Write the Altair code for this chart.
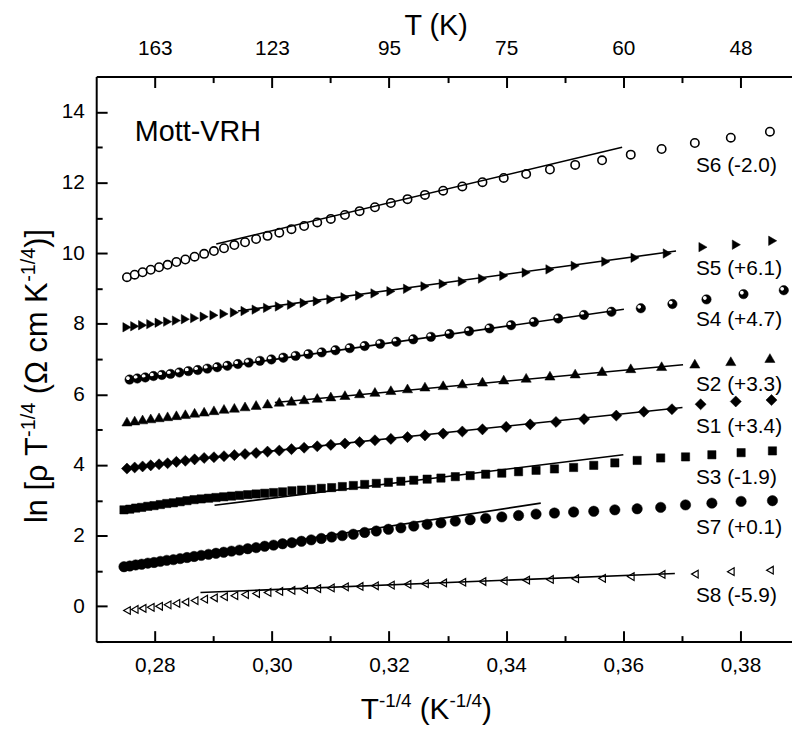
import altair as alt
import pandas as pd

# ---------------- data ----------------
X_A = [0.27525, 0.27657, 0.27792, 0.27931, 0.28073, 0.28219, 0.28369, 0.28522, 0.28680, 0.28843,
       0.29010, 0.29182, 0.29359, 0.29541, 0.29730, 0.29925, 0.30126, 0.30334, 0.30550, 0.30774,
       0.31006, 0.31247, 0.31497, 0.31759, 0.32031, 0.32315, 0.32613, 0.32924, 0.33251, 0.33595,
       0.33958, 0.34341, 0.34747, 0.35178, 0.35637, 0.36127, 0.36654, 0.37221, 0.37835, 0.38503]
X_S5 = [0.27525, 0.27657, 0.27792, 0.27931, 0.28073, 0.28219, 0.28369, 0.28522, 0.28680, 0.28843,
        0.29010, 0.29182, 0.29359, 0.29541, 0.29730, 0.29925, 0.30126, 0.30334, 0.30550, 0.30774,
        0.31006, 0.31247, 0.31497, 0.31759, 0.32031, 0.32315, 0.32613, 0.32924, 0.33251, 0.33595,
        0.33958, 0.34341, 0.34747, 0.35178, 0.35700, 0.36200, 0.36750, 0.37360, 0.37930, 0.38550]
X_S1 = [0.27525, 0.27657, 0.27792, 0.27931, 0.28073, 0.28219, 0.28369, 0.28522, 0.28680, 0.28843,
        0.29010, 0.29182, 0.29359, 0.29541, 0.29730, 0.29925, 0.30126, 0.30334, 0.30550, 0.30774,
        0.31006, 0.31247, 0.31497, 0.31759, 0.32031, 0.32315, 0.32613, 0.32924, 0.33251, 0.33595,
        0.34000, 0.34410, 0.34850, 0.35330, 0.35880, 0.36350, 0.36830, 0.37320, 0.37920, 0.38530]
X_B = [0.27570, 0.27702, 0.27838, 0.27978, 0.28121, 0.28269, 0.28420, 0.28574, 0.28734, 0.28898,
       0.29066, 0.29240, 0.29419, 0.29603, 0.29795, 0.29991, 0.30195, 0.30405, 0.30623, 0.30850,
       0.31085, 0.31329, 0.31584, 0.31848, 0.32124, 0.32413, 0.32715, 0.33031, 0.33365, 0.33715,
       0.34083, 0.34474, 0.34888, 0.35328, 0.35797, 0.36299, 0.36838, 0.37420, 0.38052, 0.38740]
X_C = [0.27474, 0.27573, 0.27674, 0.27776, 0.27881, 0.27987, 0.28095, 0.28205, 0.28318, 0.28433,
       0.28550, 0.28671, 0.28793, 0.28918, 0.29045, 0.29177, 0.29310, 0.29446, 0.29587, 0.29730,
       0.29877, 0.30028, 0.30182, 0.30341, 0.30504, 0.30671, 0.30843, 0.31020, 0.31202, 0.31390,
       0.31584, 0.31782, 0.31989, 0.32202, 0.32422, 0.32650, 0.32886, 0.33131, 0.33385, 0.33650,
       0.33925, 0.34211, 0.34510, 0.34824, 0.35151, 0.35495, 0.35855, 0.36236, 0.36638, 0.37062,
       0.37512, 0.38011, 0.38546]

S6_Y = [9.32, 9.39, 9.46, 9.53, 9.60, 9.67, 9.75, 9.82, 9.90, 9.98,
        10.06, 10.14, 10.23, 10.31, 10.40, 10.49, 10.58, 10.68, 10.77, 10.87,
        10.97, 11.08, 11.19, 11.30, 11.42, 11.53, 11.65, 11.77, 11.89, 12.01,
        12.13, 12.24, 12.37, 12.50, 12.63, 12.79, 12.95, 13.12, 13.27, 13.44]
S5_Y = [7.90, 7.93, 7.96, 7.99, 8.03, 8.06, 8.09, 8.13, 8.16, 8.20,
        8.24, 8.28, 8.32, 8.36, 8.40, 8.45, 8.49, 8.54, 8.59, 8.64,
        8.69, 8.75, 8.80, 8.86, 8.92, 8.99, 9.06, 9.13, 9.20, 9.28,
        9.36, 9.45, 9.54, 9.64, 9.76, 9.87, 9.99, 10.17, 10.24, 10.35]
S4_Y = [6.42, 6.45, 6.48, 6.52, 6.55, 6.58, 6.62, 6.66, 6.69, 6.73,
        6.77, 6.81, 6.86, 6.90, 6.95, 6.99, 7.04, 7.09, 7.14, 7.19,
        7.25, 7.31, 7.37, 7.43, 7.49, 7.56, 7.63, 7.71, 7.79, 7.87,
        7.96, 8.05, 8.15, 8.25, 8.34, 8.44, 8.56, 8.69, 8.84, 8.95]
S2_Y = [5.23, 5.26, 5.29, 5.32, 5.35, 5.38, 5.41, 5.44, 5.48, 5.51,
        5.55, 5.59, 5.62, 5.66, 5.70, 5.74, 5.79, 5.82, 5.86, 5.90,
        5.94, 5.98, 6.03, 6.07, 6.12, 6.17, 6.22, 6.26, 6.31, 6.36,
        6.42, 6.47, 6.53, 6.59, 6.66, 6.74, 6.80, 6.87, 6.94, 7.03]
S1_Y = [3.90, 3.93, 3.96, 3.99, 4.02, 4.05, 4.09, 4.12, 4.16, 4.20,
        4.22, 4.25, 4.28, 4.31, 4.34, 4.38, 4.41, 4.45, 4.49, 4.53,
        4.57, 4.61, 4.65, 4.70, 4.74, 4.79, 4.84, 4.89, 4.95, 5.01,
        5.08, 5.15, 5.22, 5.30, 5.40, 5.51, 5.58, 5.72, 5.80, 5.84]
S3_Y = [2.73, 2.75, 2.78, 2.80, 2.83, 2.85, 2.88, 2.91, 2.93, 2.96,
        2.99, 3.02, 3.04, 3.06, 3.08, 3.10, 3.12, 3.14, 3.16, 3.18,
        3.20, 3.22, 3.24, 3.27, 3.29, 3.31, 3.34, 3.36, 3.39, 3.42,
        3.45, 3.48, 3.51, 3.54, 3.57, 3.60, 3.63, 3.67, 3.70, 3.74,
        3.77, 3.81, 3.85, 3.89, 3.93, 3.99, 4.06, 4.13, 4.20, 4.23,
        4.29, 4.35, 4.40]
S7_Y = [1.12, 1.14, 1.17, 1.19, 1.22, 1.24, 1.27, 1.30, 1.32, 1.35,
        1.38, 1.41, 1.44, 1.47, 1.50, 1.53, 1.56, 1.59, 1.63, 1.66,
        1.70, 1.73, 1.77, 1.80, 1.84, 1.88, 1.92, 1.96, 2.00, 2.04,
        2.09, 2.13, 2.18, 2.22, 2.27, 2.32, 2.36, 2.41, 2.45, 2.49,
        2.53, 2.57, 2.61, 2.64, 2.67, 2.69, 2.73, 2.76, 2.80, 2.87,
        2.92, 2.97, 2.99]
S8_Y = [-0.12, -0.09, -0.06, -0.03, 0.00, 0.04, 0.08, 0.12, 0.16, 0.20,
        0.24, 0.27, 0.30, 0.33, 0.36, 0.39, 0.42, 0.45, 0.48, 0.50,
        0.52, 0.55, 0.56, 0.58, 0.60, 0.62, 0.64, 0.66, 0.68, 0.70,
        0.72, 0.74, 0.76, 0.78, 0.79, 0.84, 0.90, 0.91, 0.98, 1.02]

SERIES = ["S6", "S5", "S4", "S2", "S1", "S3", "S7", "S8"]
SERIES_X = {"S6": X_A, "S5": X_S5, "S4": X_B, "S2": X_A, "S1": X_S1, "S3": X_C, "S7": X_C, "S8": X_A}
SERIES_Y = {"S6": S6_Y, "S5": S5_Y, "S4": S4_Y, "S2": S2_Y, "S1": S1_Y, "S3": S3_Y, "S7": S7_Y, "S8": S8_Y}

LABELS = ["S6 (-2.0)", "S5 (+6.1)", "S4 (+4.7)", "S2 (+3.3)", "S1 (+3.4)", "S3 (-1.9)", "S7 (+0.1)", "S8 (-5.9)"]
LABEL_X = [0.3724] * 8
LABEL_Y = [12.46, 9.55, 8.11, 6.27, 5.07, 3.62, 2.22, 0.30]

# linear fits (start / end)
FIT_X0 = [0.2905, 0.2942, 0.2757, 0.3005, 0.2877, 0.2902, 0.2759, 0.2878]
FIT_Y0 = [10.26, 8.36, 6.40, 5.77, 4.18, 2.86, 1.15, 0.39]
FIT_X1 = [0.3598, 0.3690, 0.3601, 0.3702, 0.3701, 0.3600, 0.3459, 0.3688]
FIT_Y1 = [13.00, 10.06, 8.41, 6.84, 5.63, 4.29, 2.92, 0.93]

X_MAJOR = [0.28, 0.30, 0.32, 0.34, 0.36, 0.38]
X_MINOR = [0.29, 0.31, 0.33, 0.35, 0.37]
TOP_LABELS = ["163", "123", "95", "75", "60", "48"]
Y_MAJOR = [0, 2, 4, 6, 8, 10, 12, 14]
Y_MINOR = [-1, 1, 3, 5, 7, 9, 11, 13]

# ---------------- layout ----------------
W, H = 702, 570
FONT = "Liberation Sans"
XS = alt.Scale(domain=[0.27, 0.3888], nice=False, zero=False)
YS = alt.Scale(domain=[-1, 15], nice=False, zero=False)

MAJ = {"expr": "-11"}
MIN = {"expr": "-6"}
common = dict(grid=False, title=None, domainColor="black", tickColor="black",
              labelColor="black", labelFont=FONT, labelFontSize=21,
              domainWidth=2, tickWidth=2)

ax_bottom = alt.Axis(orient="bottom", values=X_MAJOR, tickSize=MAJ, labelPadding=24,
                     labelExpr="replace(format(datum.value, '.2f'), '.', ',')", **common)
ax_bottom_min = alt.Axis(orient="bottom", values=X_MINOR, tickSize=MIN, labels=False,
                         domain=False, **common)
top_expr = "[" + ",".join("'%s'" % t for t in TOP_LABELS) + "][indexof([" + \
    ",".join(str(int(round(v * 100))) for v in X_MAJOR) + "], round(datum.value*100))]"
ax_top = alt.Axis(orient="top", values=X_MAJOR, tickSize=MAJ, labelPadding=29,
                  labelExpr=top_expr, **common)
ax_top_min = alt.Axis(orient="top", values=X_MINOR, tickSize=MIN, labels=False,
                      domain=False, **common)
ax_left = alt.Axis(orient="left", values=Y_MAJOR, tickSize=MAJ, labelPadding=23,
                   format="d", **common)
ax_left_min = alt.Axis(orient="left", values=Y_MINOR, tickSize=MIN, labels=False,
                       domain=False, **common)

rows = []
for s in SERIES:
    for xv, yv in zip(SERIES_X[s], SERIES_Y[s]):
        rows.append({"s": s, "x": xv, "y": yv})
pts = pd.DataFrame(rows)

STYLE = {
    "S6": dict(shape="circle", fill="white", stroke="black", strokeWidth=1.6, size=72),
    "S5": dict(shape="triangle-right", fill="black", stroke="black", strokeWidth=0.5, size=90),
    "S4": dict(shape="circle", fill="black", stroke="black", strokeWidth=0.5, size=90),
    "S2": dict(shape="triangle-up", fill="black", stroke="black", strokeWidth=0.5, size=105),
    "S1": dict(shape="diamond", fill="black", stroke="black", strokeWidth=0.5, size=125),
    "S3": dict(shape="square", fill="black", stroke="black", strokeWidth=0.5, size=70),
    "S7": dict(shape="circle", fill="black", stroke="black", strokeWidth=0.5, size=110),
    "S8": dict(shape="triangle-left", fill="white", stroke="black", strokeWidth=1.2, size=60),
}

layers = []
for i, s in enumerate(SERIES):
    st = STYLE[s]
    layers.append(
        alt.Chart(pts).transform_filter(alt.datum.s == s).mark_point(
            filled=True, opacity=1, fillOpacity=1, **st
        ).encode(
            x=alt.X("x:Q", scale=XS, axis=ax_bottom if i == 0 else None),
            y=alt.Y("y:Q", scale=YS, axis=ax_left if i == 0 else None),
        )
    )

# white highlight on the S4 "spheres"
HIGHLIGHT = "M -0.75 -0.3 A 0.4 0.4 0 1 1 0.05 -0.3 A 0.4 0.4 0 1 1 -0.75 -0.3 Z"
layers.append(
    alt.Chart(pts).transform_filter(alt.datum.s == "S4").mark_point(
        shape=HIGHLIGHT, filled=True, fill="white", strokeWidth=0, size=90, opacity=1
    ).encode(x=alt.X("x:Q", scale=XS, axis=None), y=alt.Y("y:Q", scale=YS, axis=None))
)

fits = pd.DataFrame({"x0": FIT_X0, "y0": FIT_Y0, "x1": FIT_X1, "y1": FIT_Y1})
layers.append(
    alt.Chart(fits).mark_rule(color="black", strokeWidth=1.6).encode(
        x=alt.X("x0:Q", scale=XS, axis=ax_top), x2="x1:Q",
        y=alt.Y("y0:Q", scale=YS, axis=ax_left_min), y2="y1:Q",
    )
)

labs = pd.DataFrame({"x": LABEL_X, "y": LABEL_Y, "t": LABELS})
layers.append(
    alt.Chart(labs).mark_text(align="left", baseline="middle", font=FONT, fontSize=21,
                              color="black").encode(
        x=alt.X("x:Q", scale=XS, axis=ax_bottom_min),
        y=alt.Y("y:Q", scale=YS, axis=None), text="t:N",
    )
)

mott = pd.DataFrame({"x": [0.2766], "y": [13.44], "t": ["Mott-VRH"]})
layers.append(
    alt.Chart(mott).mark_text(align="left", baseline="middle", font=FONT, fontSize=29,
                              color="black").encode(
        x=alt.X("x:Q", scale=XS, axis=ax_top_min),
        y=alt.Y("y:Q", scale=YS, axis=None), text="t:N",
    )
)

# ---------------- axis titles (with superscripts) ----------------
CW = {'l': .222, 'n': .556, ' ': .278, '[': .278, 'ρ': .578, 'T': .611, '-': .333, '1': .556,
      '/': .278, '4': .556, '(': .333, 'Ω': .768, 'c': .5, 'm': .833, 'K': .667, ')': .333, ']': .278}


def tw(txt, fs):
    return sum(CW.get(c, .55) for c in txt) * fs


def piece(txt, px, py, fs, angle=0, align="left", baseline="alphabetic"):
    kw = dict(align=align, baseline=baseline, font=FONT, fontSize=fs, color="black")
    if angle:
        kw["angle"] = angle
    return alt.Chart(pd.DataFrame({"t": [txt]})).mark_text(**kw).encode(
        x=alt.value(px), y=alt.value(py), text="t:N")


# pieces: (text, font size, superscript?, gap after in em of main font)
BIG, SUP = 30, 19
xt = [("T", BIG, 0, 0.0), ("-1/4", SUP, 1, 0.28), ("(K", BIG, 0, 0.0), ("-1/4", SUP, 1, 0.0),
      (")", BIG, 0, 0.0)]
total = sum(tw(t, f) + g * BIG for t, f, _, g in xt)
cx = 430 - 97 - total / 2
for t, f, sup, g in xt:
    layers.append(piece(t, cx, 648 - (12 if sup else 0), f))
    cx += tw(t, f) + g * BIG

# top title
layers.append(piece("T (K)", 440 - 97, -42, 29, align="center"))

# left title (rotated): ln [ρ T^-1/4 (Ω cm K^-1/4)]
YB, YSUP = 31, 20
yt = [("ln [ρ T", YB, 0, 0.0), ("-1/4", YSUP, 1, 0.28), ("(Ω cm K", YB, 0, 0.0),
      ("-1/4", YSUP, 1, 0.0), (")]", YB, 0, 0.0)]
total = sum(tw(t, f) + g * YB for t, f, _, g in yt)
cy = 376 - 74 + total / 2
for t, f, sup, g in yt:
    layers.append(piece(t, -50 - (12 if sup else 0), cy, f, angle=270))
    cy -= tw(t, f) + g * YB

chart = alt.layer(*layers).resolve_axis(x="independent", y="independent").properties(
    width=W, height=H,
    autosize=alt.AutoSizeParams(type="none"),
    padding={"left": 89, "top": 66, "right": 0, "bottom": 86},
).configure_view(stroke=None)

chart.save("out.html", embed_options={"renderer": "svg", "actions": False})
